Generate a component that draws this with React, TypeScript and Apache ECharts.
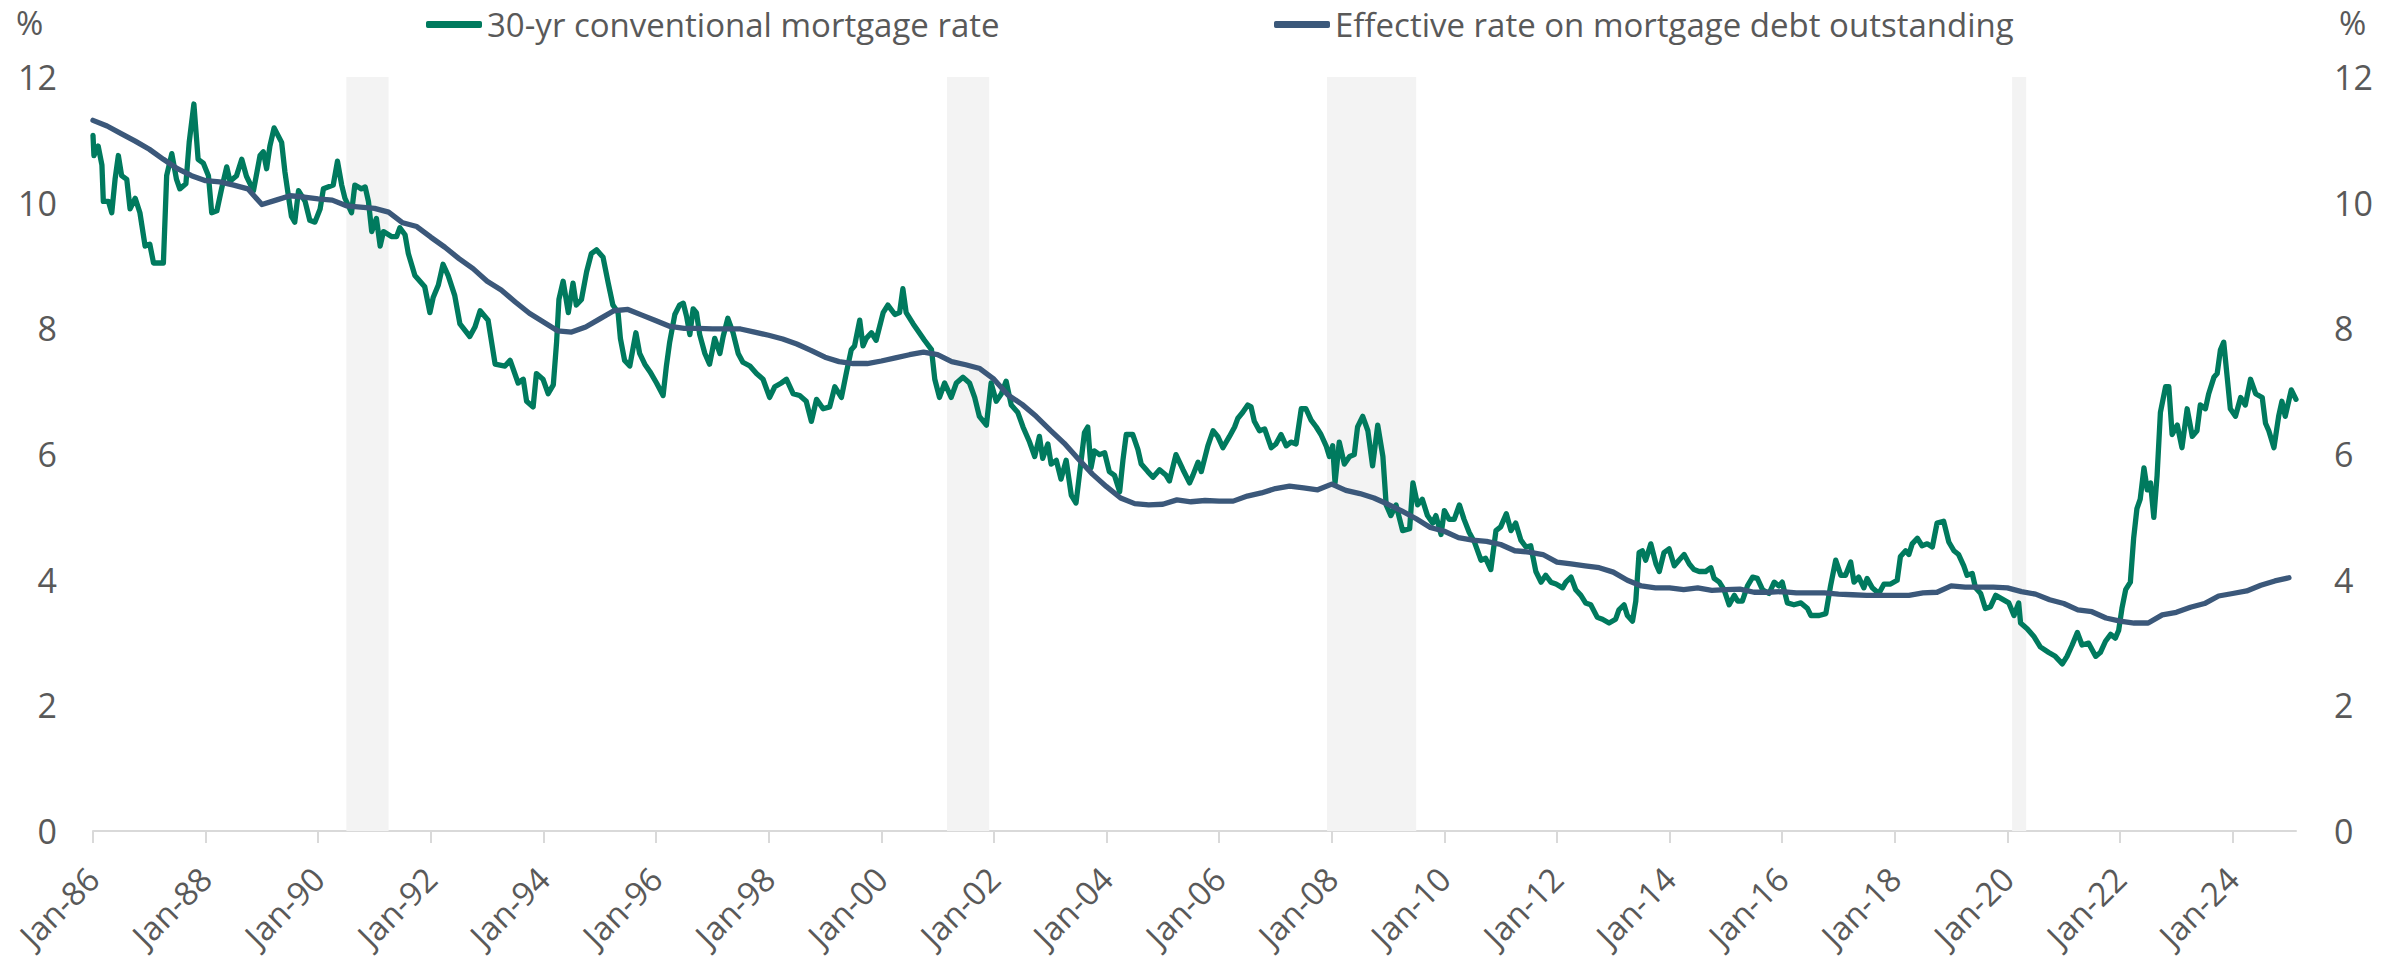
import React, { useEffect, useRef } from "react";
import * as echarts from "echarts";

// x values are months since Jan-1986 (0 = Jan-86)
const X_TICKS = [0, 24, 48, 72, 96, 120, 144, 168, 192, 216, 240, 264, 288, 312, 336, 360, 384, 408, 432, 456];
const X_MAX = 469.5;
const Y_TICKS = [0, 2, 4, 6, 8, 10, 12];

const SERIES_GREEN = "30-yr conventional mortgage rate";
const SERIES_NAVY = "Effective rate on mortgage debt outstanding";

// Recession shading (start month, end month)
const RECESSIONS: [number, number][] = [
  [54, 63],
  [182, 191],
  [263, 282],
  [409, 412],
];

// 30-yr conventional mortgage rate, [month since Jan-86, %]
const rate1986to1993: [number, number][] = [
  [0.0, 11.07], [0.2, 10.75], [1.1, 10.9], [1.9, 10.6], [2.2, 10.02], [3.3, 10.02], [4.0, 9.84], [4.7, 10.37],
  [5.4, 10.75], [6.1, 10.43], [7.2, 10.37], [7.9, 9.9], [9.0, 10.07], [10.0, 9.84], [11.1, 9.31], [12.1, 9.34],
  [12.9, 9.04], [15.0, 9.04], [15.7, 10.43], [16.8, 10.78], [17.8, 10.37], [18.5, 10.22], [19.8, 10.3], [20.5, 10.96],
  [21.5, 11.57], [22.4, 10.69], [23.5, 10.63], [24.6, 10.43], [25.3, 9.84], [26.4, 9.87], [27.4, 10.22], [28.5, 10.57],
  [29.2, 10.34], [30.6, 10.43], [31.7, 10.69], [32.7, 10.42], [34.2, 10.19], [35.6, 10.75], [36.3, 10.81], [37.0, 10.54],
  [37.7, 10.9], [38.6, 11.19], [40.2, 10.96], [40.9, 10.49], [41.6, 10.13], [42.3, 9.78], [43.0, 9.69], [43.8, 10.19],
  [45.2, 10.02], [46.2, 9.72], [47.3, 9.69], [48.4, 9.9], [49.1, 10.22], [51.2, 10.28], [52.1, 10.66], [53.0, 10.28],
  [53.7, 10.07], [55.1, 9.84], [55.8, 10.28], [57.2, 10.22], [58.0, 10.25], [58.7, 10.02], [59.4, 9.54], [60.4, 9.75],
  [61.2, 9.31], [61.9, 9.54], [63.6, 9.46], [64.7, 9.46], [65.4, 9.6], [66.5, 9.49], [67.2, 9.19], [68.6, 8.84],
  [70.7, 8.66], [71.8, 8.25], [72.5, 8.49], [73.6, 8.69], [74.6, 9.02], [75.7, 8.84], [77.1, 8.52], [78.2, 8.07],
  [80.3, 7.87], [81.4, 8.02], [82.5, 8.28], [84.2, 8.13], [85.7, 7.43], [87.8, 7.4], [88.9, 7.49], [90.6, 7.13],
  [91.7, 7.19], [92.4, 6.84], [93.8, 6.75],
];
const rate1994to2001: [number, number][] = [
  [94.5, 7.28], [95.9, 7.19], [97.0, 6.96], [98.1, 7.1], [98.8, 7.78], [99.3, 8.46], [100.2, 8.75], [101.3, 8.25],
  [102.3, 8.72], [103.0, 8.37], [104.1, 8.46], [105.2, 8.9], [106.2, 9.19], [107.3, 9.25], [108.7, 9.13], [109.8, 8.72],
  [110.8, 8.37], [111.9, 8.25], [112.4, 7.84], [113.3, 7.49], [114.4, 7.4], [115.7, 7.93], [116.5, 7.6], [117.6, 7.43],
  [118.7, 7.31], [120.1, 7.13], [121.5, 6.93], [122.2, 7.4], [122.9, 7.78], [124.0, 8.22], [125.0, 8.37], [125.8, 8.4],
  [126.5, 8.19], [127.2, 7.9], [127.9, 8.31], [128.6, 8.25], [129.3, 7.9], [130.4, 7.6], [131.4, 7.43], [132.5, 7.84],
  [133.6, 7.6], [134.3, 7.87], [135.3, 8.16], [136.4, 7.93], [137.5, 7.6], [138.5, 7.46], [140.0, 7.4], [141.4, 7.28],
  [142.8, 7.19], [144.2, 6.9], [145.3, 7.07], [146.7, 7.13], [147.8, 7.19], [149.2, 6.96], [150.6, 6.93], [152.0, 6.84],
  [153.1, 6.52], [154.2, 6.87], [155.6, 6.72], [157.0, 6.75], [158.1, 7.07], [159.5, 6.9], [160.6, 7.31], [161.6, 7.66],
  [162.3, 7.72], [163.4, 8.13], [164.1, 7.72], [164.8, 7.84], [165.9, 7.93], [166.9, 7.81], [168.4, 8.25], [169.4, 8.37],
  [170.9, 8.22], [171.9, 8.25], [172.6, 8.63], [173.3, 8.25], [174.8, 8.07], [175.8, 7.96], [177.2, 7.81], [178.7, 7.66],
  [179.4, 7.19], [180.4, 6.9], [181.5, 7.13], [182.9, 6.9], [184.0, 7.13], [185.4, 7.22], [186.8, 7.13],
];
const rate2001to2009: [number, number][] = [
  [187.9, 6.9], [188.9, 6.6], [190.4, 6.46], [191.4, 7.13], [192.5, 6.84], [193.6, 6.96], [194.6, 7.16], [195.7, 6.78],
  [197.1, 6.66], [198.2, 6.43], [199.6, 6.19], [200.7, 5.96], [201.7, 6.28], [202.4, 5.93], [203.5, 6.16], [204.2, 5.84],
  [205.3, 5.9], [206.3, 5.6], [207.4, 5.9], [208.5, 5.34], [209.5, 5.22], [210.6, 5.9], [211.3, 6.34], [212.0, 6.43],
  [212.7, 5.78], [213.4, 6.05], [214.5, 5.99], [215.6, 6.02], [216.6, 5.72], [217.7, 5.66], [218.8, 5.4], [219.5, 5.9],
  [220.2, 6.31], [221.6, 6.31], [222.7, 6.07], [223.4, 5.84], [224.8, 5.72], [225.9, 5.63], [227.3, 5.75], [228.7, 5.66],
  [229.4, 5.57], [230.8, 5.99], [232.3, 5.75], [233.7, 5.54], [234.4, 5.66], [235.5, 5.87], [236.2, 5.72], [237.6, 6.13],
  [238.7, 6.37], [239.7, 6.28], [240.8, 6.1], [242.2, 6.28], [243.3, 6.43], [244.0, 6.57], [245.0, 6.66], [246.1, 6.78],
  [246.8, 6.75], [247.5, 6.52], [248.6, 6.37], [249.7, 6.4], [251.1, 6.1], [252.1, 6.16], [253.2, 6.31], [254.3, 6.13],
  [255.3, 6.19], [256.4, 6.16], [257.5, 6.72], [258.5, 6.72], [259.6, 6.54], [260.7, 6.43], [261.7, 6.31], [262.8, 6.13],
  [263.5, 5.96], [264.2, 6.13], [264.7, 5.54], [265.6, 6.19], [266.7, 5.84], [267.8, 5.96], [268.8, 5.99], [269.5, 6.43],
  [270.6, 6.6], [271.7, 6.37], [272.7, 5.81], [273.8, 6.46], [274.9, 5.96], [275.6, 5.19], [276.6, 5.02], [277.7, 5.19],
  [279.1, 4.78], [280.6, 4.81], [281.3, 5.54], [282.3, 5.19],
];
const rate2009to2017: [number, number][] = [
  [283.3, 5.28], [284.4, 5.02], [285.5, 4.9], [286.2, 5.02], [287.3, 4.72], [288.0, 5.1], [289.0, 4.96], [290.1, 4.96],
  [291.2, 5.19], [292.2, 4.96], [293.3, 4.75], [294.4, 4.6], [295.8, 4.31], [296.8, 4.34], [297.9, 4.16], [299.0, 4.78],
  [300.0, 4.84], [301.2, 5.05], [302.2, 4.78], [303.2, 4.9], [304.3, 4.63], [305.4, 4.52], [306.4, 4.54], [307.5, 4.13],
  [308.6, 3.96], [309.6, 4.07], [310.7, 3.96], [311.8, 3.93], [313.2, 3.87], [313.9, 3.96], [315.0, 4.04], [316.0, 3.84],
  [317.1, 3.75], [318.1, 3.63], [319.2, 3.6], [320.6, 3.4], [321.7, 3.37], [323.1, 3.31], [324.5, 3.37], [325.2, 3.52],
  [326.3, 3.6], [327.0, 3.43], [328.1, 3.34], [328.8, 3.66], [329.5, 4.43], [330.2, 4.46], [330.9, 4.31], [332.0, 4.57],
  [333.1, 4.25], [333.8, 4.13], [334.8, 4.43], [335.9, 4.49], [337.0, 4.22], [338.0, 4.31], [339.1, 4.4], [340.2, 4.25],
  [341.2, 4.16], [342.3, 4.13], [343.7, 4.13], [344.8, 4.19], [345.5, 4.02], [346.6, 3.96], [347.6, 3.84], [348.7, 3.6],
  [349.8, 3.75], [350.5, 3.66], [351.5, 3.66], [352.6, 3.9], [353.7, 4.04], [354.7, 4.02], [355.8, 3.84], [357.2, 3.78],
  [358.3, 3.96], [359.3, 3.9], [360.0, 3.96], [361.1, 3.63], [362.5, 3.6], [364.0, 3.63], [365.4, 3.54], [366.1, 3.43],
  [367.9, 3.43], [369.3, 3.46], [370.3, 3.9], [371.4, 4.31], [372.5, 4.07], [373.5, 4.07], [374.6, 4.28],
];
const rate2017to2025: [number, number][] = [
  [375.3, 3.96], [376.3, 4.04], [377.4, 3.87], [378.1, 4.02], [379.2, 3.87], [380.6, 3.78], [381.7, 3.93], [383.1, 3.93],
  [384.5, 3.99], [385.2, 4.37], [386.3, 4.46], [387.0, 4.4], [387.7, 4.57], [388.8, 4.66], [389.8, 4.54], [390.9, 4.57],
  [392.0, 4.52], [393.0, 4.9], [394.4, 4.93], [395.5, 4.6], [396.6, 4.46], [397.6, 4.4], [398.7, 4.22], [399.4, 4.07],
  [400.5, 4.1], [401.2, 3.87], [402.3, 3.78], [403.3, 3.54], [404.4, 3.57], [405.5, 3.75], [406.9, 3.69], [408.3, 3.63],
  [409.4, 3.43], [410.4, 3.63], [410.8, 3.31], [412.2, 3.22], [413.6, 3.1], [415.0, 2.93], [416.8, 2.84], [418.2, 2.78],
  [419.7, 2.66], [420.7, 2.78], [421.8, 2.96], [422.9, 3.16], [423.9, 2.96], [425.3, 2.99], [426.8, 2.78], [427.8, 2.84],
  [428.9, 3.02], [430.0, 3.13], [431.0, 3.07], [431.7, 3.19], [432.4, 3.54], [433.2, 3.84], [434.2, 3.96], [434.9, 4.66],
  [435.6, 5.13], [436.3, 5.28], [437.1, 5.78], [437.8, 5.43], [438.5, 5.54], [439.2, 4.99], [439.9, 5.66], [440.6, 6.66],
  [441.7, 7.07], [442.4, 7.07], [443.1, 6.31], [444.2, 6.46], [445.2, 6.1], [446.3, 6.72], [447.4, 6.28], [448.4, 6.37],
  [449.1, 6.78], [450.2, 6.72], [450.9, 6.96], [452.0, 7.22], [452.7, 7.28], [453.4, 7.66], [454.1, 7.78], [454.8, 7.25],
  [455.5, 6.72], [456.6, 6.6], [457.7, 6.9], [458.7, 6.78], [459.8, 7.19], [460.9, 6.96], [462.3, 6.9], [463.0, 6.49],
  [463.7, 6.37], [464.8, 6.1], [465.8, 6.6], [466.5, 6.84], [467.2, 6.6], [468.5, 7.02], [469.5, 6.87],
];

// Effective rate on mortgage debt outstanding, quarterly from Jan-86 (%)
const EFFECTIVE_START_MONTH = 0;
const EFFECTIVE_STEP_MONTHS = 3;
const effectiveRate: number[] = [
  11.31, 11.22, 11.10, 10.98, 10.85, 10.69, 10.54, 10.43, 10.35, 10.33, 10.28, 10.22,
  9.97, 10.04, 10.11, 10.09, 10.06, 10.04, 9.95, 9.93, 9.91, 9.85, 9.68, 9.62,
  9.45, 9.29, 9.11, 8.95, 8.75, 8.61, 8.42, 8.24, 8.10, 7.96, 7.94, 8.02,
  8.15, 8.28, 8.30, 8.21, 8.12, 8.03, 8.00, 8.00, 7.99, 7.99, 7.99, 7.94,
  7.89, 7.83, 7.75, 7.65, 7.54, 7.47, 7.44, 7.44, 7.48, 7.53, 7.58, 7.62,
  7.58, 7.47, 7.42, 7.36, 7.19, 6.94, 6.79, 6.60, 6.38, 6.17, 5.92, 5.68,
  5.48, 5.30, 5.21, 5.19, 5.20, 5.27, 5.24, 5.26, 5.25, 5.25, 5.33, 5.38,
  5.45, 5.49, 5.46, 5.43, 5.52, 5.42, 5.37, 5.30, 5.20, 5.09, 4.97, 4.83,
  4.77, 4.67, 4.63, 4.61, 4.56, 4.46, 4.44, 4.40, 4.28, 4.25, 4.22, 4.19,
  4.12, 3.99, 3.90, 3.87, 3.87, 3.84, 3.87, 3.83, 3.84, 3.85, 3.80, 3.80,
  3.81, 3.79, 3.79, 3.79, 3.77, 3.76, 3.75, 3.75, 3.75, 3.75, 3.79, 3.80,
  3.90, 3.88, 3.88, 3.88, 3.87, 3.81, 3.77, 3.68, 3.62, 3.52, 3.49, 3.39,
  3.34, 3.31, 3.31, 3.44, 3.48, 3.56, 3.62, 3.74, 3.78, 3.82, 3.91, 3.98,
  4.03,
];

const GREEN = "#007A5E";
const NAVY = "#3B587A";
const TEXT = "#595959";
const AXIS = "#D9D9D9";
const SHADE = "#F3F3F3";
const FONT = "'Segoe UI', 'Open Sans', 'Noto Sans', sans-serif";
const LINE_W = 5.3;

export default function App() {
  const ref = useRef<HTMLDivElement | null>(null);

  useEffect(() => {
    if (!ref.current) return;
    const chart = echarts.init(ref.current, undefined, { renderer: "svg" });

    const greenData = [
      ...rate1986to1993,
      ...rate1994to2001,
      ...rate2001to2009,
      ...rate2009to2017,
      ...rate2017to2025,
    ];
    const navyData = effectiveRate.map((v, i) => [EFFECTIVE_START_MONTH + i * EFFECTIVE_STEP_MONTHS, v]);

    const labelFmt = (v: number) => {
      const yr = 1986 + Math.round(v / 12);
      return "Jan-" + String(yr % 100).padStart(2, "0");
    };

    const legendCommon = {
      orient: "horizontal" as const,
      top: 8,
      padding: 0,
      icon: "roundRect",
      itemWidth: 56,
      itemHeight: 7,
      selectedMode: false,
      textStyle: { color: TEXT, fontSize: 33, fontFamily: FONT },
    };

    chart.setOption({
      animation: false,
      backgroundColor: "#ffffff",
      grid: { left: 93, right: 98, top: 77, bottom: 127, containLabel: false },
      legend: [
        { ...legendCommon, left: 426, data: [SERIES_GREEN] },
        { ...legendCommon, left: 1274, data: [SERIES_NAVY] },
      ],
      xAxis: {
        type: "value",
        min: 0,
        max: X_MAX,
        interval: 24,
        axisLine: { show: true, lineStyle: { color: AXIS, width: 2 } },
        axisTick: {
          show: true,
          length: 12,
          customValues: X_TICKS,
          lineStyle: { color: AXIS, width: 2 },
        },
        axisLabel: {
          customValues: X_TICKS,
          rotate: 45,
          margin: 42,
          formatter: labelFmt,
          color: TEXT,
          fontSize: 33,
          fontFamily: FONT,
        },
        splitLine: { show: false },
      },
      yAxis: [
        {
          type: "value",
          min: 0,
          max: 12,
          interval: 2,
          position: "left",
          axisLine: { show: false },
          axisTick: { show: false },
          splitLine: { show: false },
          axisLabel: { margin: 36, color: TEXT, fontSize: 34, fontFamily: FONT },
        },
        {
          type: "value",
          min: 0,
          max: 12,
          interval: 2,
          position: "right",
          axisLine: { show: false },
          axisTick: { show: false },
          splitLine: { show: false },
          axisLabel: { margin: 38, color: TEXT, fontSize: 34, fontFamily: FONT },
        },
      ],
      graphic: [
        {
          type: "text",
          left: 16,
          top: 6,
          style: { text: "%", fill: TEXT, fontSize: 33, fontFamily: FONT },
        },
        {
          type: "text",
          left: 2339,
          top: 6,
          style: { text: "%", fill: TEXT, fontSize: 33, fontFamily: FONT },
        },
      ],
      series: [
        {
          name: SERIES_GREEN,
          type: "line",
          data: greenData,
          yAxisIndex: 0,
          symbol: "none",
          showSymbol: false,
          z: 2,
          itemStyle: { color: GREEN },
          lineStyle: { color: GREEN, width: LINE_W, cap: "round", join: "round" },
          markArea: {
            silent: true,
            z: 1,
            itemStyle: { color: SHADE },
            data: RECESSIONS.map(([a, b]) => [{ xAxis: a }, { xAxis: b }]),
          },
        },
        {
          name: SERIES_NAVY,
          type: "line",
          data: navyData,
          yAxisIndex: 0,
          symbol: "none",
          showSymbol: false,
          z: 3,
          itemStyle: { color: NAVY },
          lineStyle: { color: NAVY, width: LINE_W, cap: "round", join: "round" },
        },
      ],
    });

    return () => {
      chart.dispose();
    };
  }, []);

  return (
    <div
      ref={ref}
      style={{ position: "fixed", left: 0, top: 0, width: 2394, height: 958, background: "#fff" }}
    />
  );
}
